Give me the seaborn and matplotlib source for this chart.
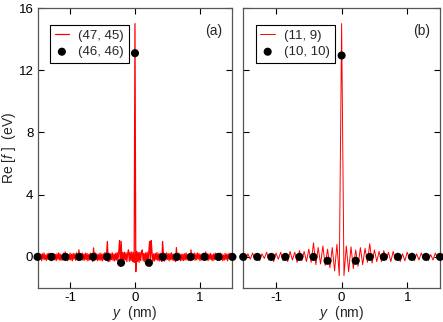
import numpy as np
import pandas as pd
import matplotlib
matplotlib.use("Agg")
import matplotlib.pyplot as plt
import seaborn as sns

# ---------------- data ----------------
# panel (a): (47, 45) curve, sampled uniformly on y in [-1.5, 1.5]
re_a_line = [
    0.15,-0.2,0.22,-0.12,0.18,-0.24,0.2,-0.15,0.25,-0.18,0.12,-0.22,0.2,-0.16,0.24,-0.2,0.14,-0.25,0.2,-0.12,
    0.22,-0.18,0.16,-0.24,0.2,-0.15,0.26,-0.2,0.18,-0.22,0.14,-0.2,0.24,-0.16,0.32,-0.2,0.2,-0.24,0.15,-0.18,
    0.24,-0.2,0.18,-0.25,0.22,-0.14,0.2,-0.22,0.26,-0.18,-0.2,0.45,-0.24,0.2,-0.16,0.25,-0.22,0.18,-0.2,0.24,
    -0.18,0.22,-0.25,0.16,-0.2,0.24,-0.15,0.2,-0.3,0.58,-0.22,0.26,-0.18,0.2,-0.24,0.16,-0.2,0.25,-0.22,0.18,
    -0.25,0.2,-0.16,0.28,-0.22,0.2,1.0,-0.3,0.24,-0.28,0.2,-0.18,0.26,-0.22,0.18,-0.26,0.22,-0.2,0.28,-0.24,
    0.3,1.05,-0.6,1.0,-0.35,0.28,-0.24,0.3,-0.2,0.26,-0.3,0.22,0.45,-0.28,0.3,-0.24,0.32,-0.3,0.26,-0.35,
    15.0,
    -0.95,0.35,-0.3,0.28,-0.35,0.3,-0.24,0.32,0.45,-0.26,0.22,-0.3,0.26,-0.22,0.3,-0.35,0.3,1.0,-0.6,1.05,
    0.3,-0.28,0.2,-0.26,0.22,-0.18,0.28,-0.22,0.2,-0.26,0.24,-0.2,-0.3,1.0,0.2,-0.28,0.22,-0.2,0.26,-0.16,
    0.2,-0.25,0.22,-0.18,0.26,-0.2,0.18,-0.24,0.16,-0.3,0.6,-0.2,0.24,-0.15,0.2,-0.25,0.16,-0.22,0.18,-0.24,
    0.2,-0.18,0.25,-0.2,0.14,-0.22,0.2,-0.24,0.45,-0.2,0.18,-0.16,0.24,-0.22,0.2,-0.18,0.25,-0.14,0.2,-0.24,
    0.16,-0.2,0.22,-0.18,0.24,-0.2,0.32,-0.16,0.2,-0.24,0.18,-0.15,0.22,-0.2,0.14,-0.25,0.2,-0.18,0.24,-0.16,
    0.2,-0.22,0.15,-0.2,0.25,-0.18,0.2,-0.24,0.12,-0.2,0.22,-0.16,0.18,-0.25,0.2,-0.12,0.24,-0.2,0.15,0.05,
]
# panel (b): (11, 9) curve, sampled uniformly on y in [-1.5, 1.5]
re_b_line = [
    0.1,-0.2,0.2,-0.15,0.25,-0.2,0.15,-0.25,0.2,-0.1,0.3,-0.2,0.2,-0.3,0.25,-0.15,0.3,-0.25,0.2,-0.3,
    0.35,-0.2,0.3,-0.35,0.4,-0.25,0.35,-0.3,0.5,-0.35,0.9,-0.5,0.6,-0.45,0.7,-0.55,0.5,-0.7,0.6,-0.9,
    0.8,-1.2,
    15.0,
    -1.2,0.7,-0.95,0.65,-0.75,0.45,-0.6,0.6,-0.5,0.55,-0.35,0.85,-0.4,0.45,-0.3,0.35,-0.3,0.4,-0.2,0.3,
    -0.3,0.35,-0.2,0.25,-0.3,0.2,-0.25,0.3,-0.15,0.25,-0.25,0.2,-0.2,0.25,-0.15,0.2,-0.25,0.15,-0.2,0.25,
    -0.15,0.05,
]
# dots: (46, 46) and (10, 10)
y_dots = [-1.5, -1.2857, -1.0714, -0.8571, -0.6429, -0.4286, -0.2143, 0.0,
          0.2143, 0.4286, 0.6429, 0.8571, 1.0714, 1.2857, 1.5]
re_a_dots = [0, 0, 0, 0, 0, 0, -0.38, 13.1, -0.38, 0, 0, 0, 0, 0, 0]
re_b_dots = [0, 0, 0, 0, 0, 0, -0.25, 12.95, -0.25, 0, 0, 0, 0, 0, 0]

labels_a = ["(47, 45)", "(46, 46)"]
labels_b = ["(11, 9)", "(10, 10)"]
panel_tags = ["(a)", "(b)"]
y_ticks = [0, 4, 8, 12, 16]
x_ticks = [-1, 0, 1]

# ---------------- style ----------------
sns.set_theme(style="ticks")
plt.rcParams["font.family"] = ["Liberation Sans", "DejaVu Sans"]
plt.rcParams["mathtext.fontset"] = "custom"
plt.rcParams["mathtext.it"] = "Liberation Sans:italic"
plt.rcParams["mathtext.rm"] = "Liberation Sans"
plt.rcParams["axes.linewidth"] = 0.8
plt.rcParams["axes.unicode_minus"] = False

fig = plt.figure(figsize=(4.43, 3.22), dpi=100)
ax_a = fig.add_axes([0.0847, 0.1056, 0.440, 0.8694])
ax_b = fig.add_axes([0.549, 0.1056, 0.4443, 0.8694])

panels = [
    (ax_a, re_a_line, re_a_dots, labels_a, panel_tags[0], 0.9),
    (ax_b, re_b_line, re_b_dots, labels_b, panel_tags[1], 0.7),
]

for ax, line_vals, dot_vals, labs, tag, lw in panels:
    df_line = pd.DataFrame({"y": np.linspace(-1.5, 1.5, len(line_vals)), "re": line_vals})
    df_dots = pd.DataFrame({"y": y_dots, "re": dot_vals})
    sns.lineplot(data=df_line, x="y", y="re", ax=ax, color="#ff0000",
                 linewidth=lw, label=labs[0], estimator=None, sort=False)
    sns.scatterplot(data=df_dots, x="y", y="re", ax=ax, color="black",
                    s=34, edgecolor="none", label=labs[1], zorder=5, clip_on=False)
    ax.set_xlim(-1.5, 1.5)
    ax.set_ylim(-2, 16)
    ax.set_xticks(x_ticks)
    ax.set_yticks(y_ticks)
    ax.tick_params(direction="in", length=4, width=0.8, top=True, right=True,
                   labelsize=9.5, colors="black", pad=3)
    for sp in ax.spines.values():
        sp.set_color("#555555")
        sp.set_linewidth(0.9)
    ax.set_xlabel("$y$  (nm)", fontsize=10, labelpad=0)
    ax.set_ylabel("")
    leg = ax.legend(loc="upper left", bbox_to_anchor=(0.064, 0.939), borderaxespad=0,
                    frameon=True, fancybox=False, framealpha=1, edgecolor="black",
                    fontsize=9.5, handlelength=1.1, handletextpad=0.7,
                    borderpad=0.35, labelspacing=0.3)
    leg.get_frame().set_linewidth(0.8)
    ax.text(0.905, 0.918, tag, transform=ax.transAxes, ha="center", va="center", fontsize=10)

ax_a.set_ylabel("Re [$f$ ]  (eV)", fontsize=10)
ax_a.yaxis.set_label_coords(-0.10, 0.5)
ax_b.tick_params(labelleft=False)

fig.savefig("out.png", dpi=100)
